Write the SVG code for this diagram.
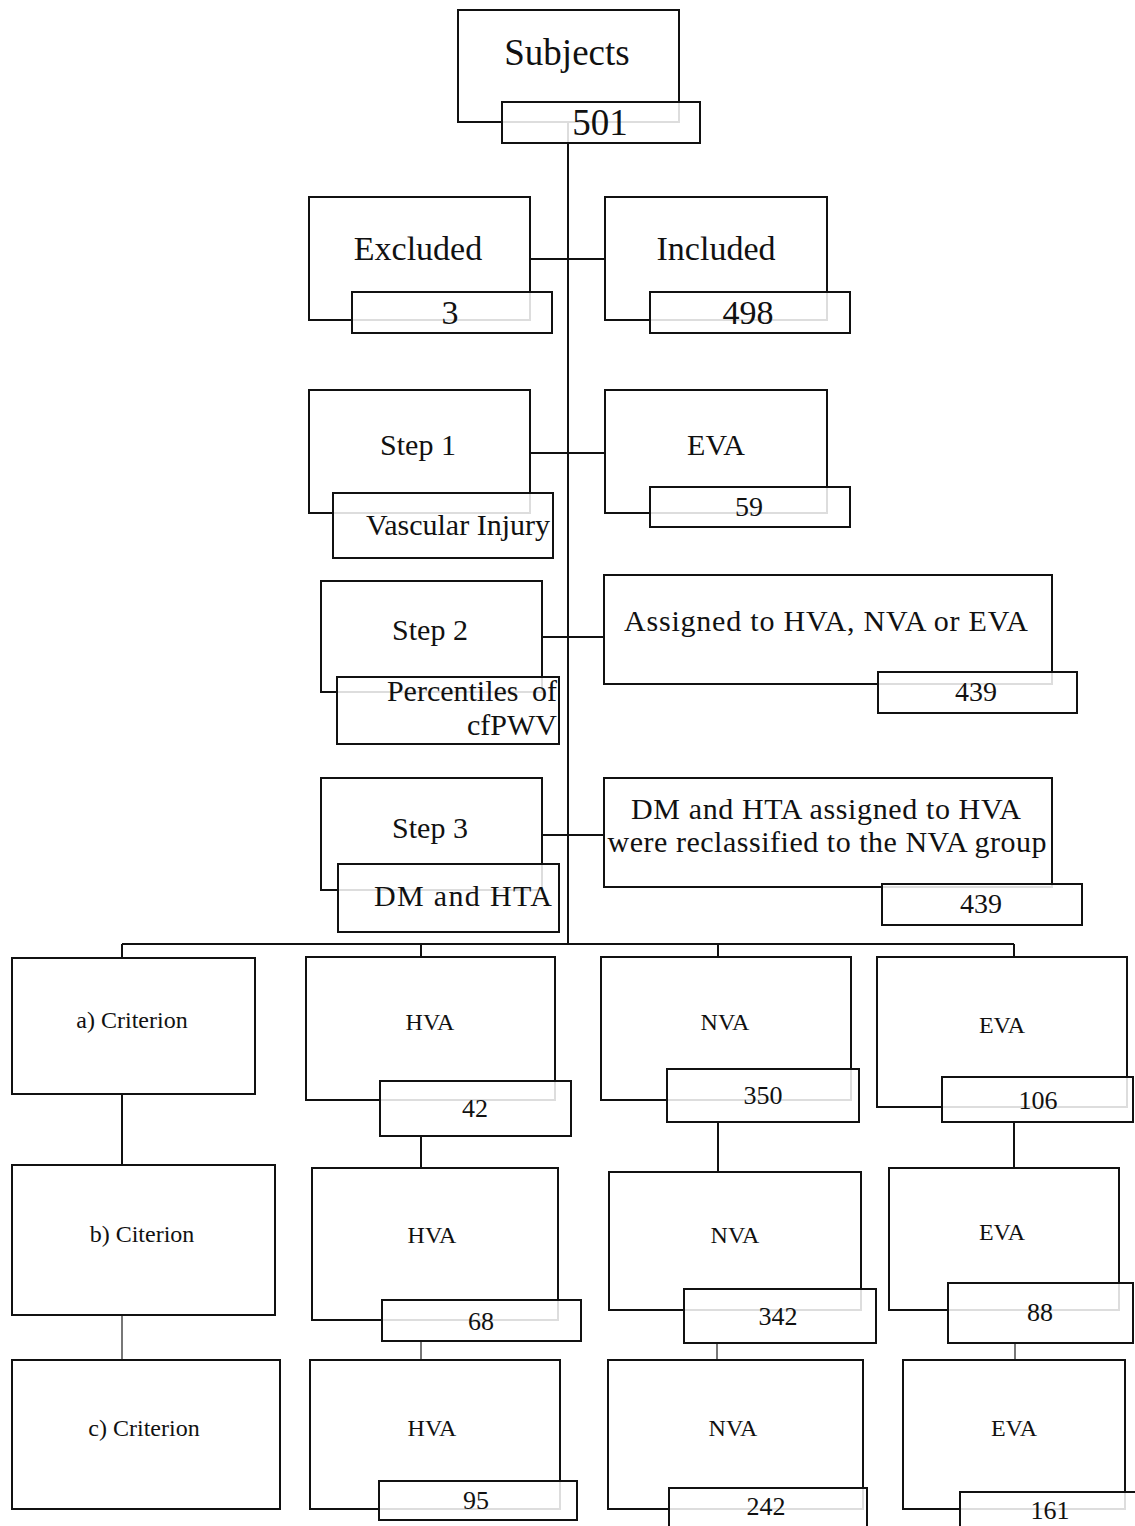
<svg xmlns="http://www.w3.org/2000/svg" width="1135" height="1526" viewBox="0 0 1135 1526">
<style>
.box{fill:#fff;stroke:#111;stroke-width:2}
.lab{fill:#fff;fill-opacity:0.86;stroke:#111;stroke-width:2}
.ln{stroke:#111;stroke-width:2;fill:none}
.lg{stroke:#777;stroke-width:2;fill:none}
text{font-family:"Liberation Serif","Times New Roman",serif;fill:#111;text-anchor:middle}
.t1{font-size:37px}
.t2{font-size:34px}
.t3{font-size:30px}
.t5{font-size:28px}
.t4{font-size:24px}
.n4{font-size:26px}
</style>
<rect width="1135" height="1526" fill="#fff"/>

<g id="connectors">
<path class="ln" d="M568 122 V944"/>
<path class="ln" d="M530 259 H605"/>
<path class="ln" d="M530 453 H605"/>
<path class="ln" d="M542 637 H604"/>
<path class="ln" d="M542 835 H604"/>
<path class="ln" d="M122 944 H1014 M122 944 V958 M421 944 V957 M718 944 V957 M1014 944 V957"/>
<path class="ln" d="M122 1094 V1165 M421 1136 V1168 M718 1122 V1172 M1014 1122 V1168"/>
<path class="lg" d="M122 1315 V1360 M421 1341 V1360 M717 1343 V1360 M1015 1343 V1360"/>
</g>

<g id="subjects">
<rect class="box" x="458" y="10" width="221" height="112"/>
<text class="t1" x="567" y="65">Subjects</text>
<rect class="lab" x="502" y="102" width="198" height="41"/>
<text class="t1" x="600" y="135">501</text>
</g>

<g id="excluded">
<rect class="box" x="309" y="197" width="221" height="123"/>
<text class="t2" x="418" y="260">Excluded</text>
<rect class="lab" x="352" y="292" width="200" height="41"/>
<text class="t2" x="450" y="324">3</text>
</g>

<g id="included">
<rect class="box" x="605" y="197" width="222" height="123"/>
<text class="t2" x="716" y="260">Included</text>
<rect class="lab" x="650" y="292" width="200" height="41"/>
<text class="t2" x="748" y="324">498</text>
</g>

<g id="step1">
<rect class="box" x="309" y="390" width="221" height="123"/>
<text class="t3" x="418" y="455">Step 1</text>
<rect class="lab" x="333" y="493" width="220" height="65"/>
<text class="t3" x="550" y="535" style="text-anchor:end">Vascular Injury</text>
</g>

<g id="eva1">
<rect class="box" x="605" y="390" width="222" height="123"/>
<text class="t3" x="716" y="455">EVA</text>
<rect class="lab" x="650" y="487" width="200" height="40"/>
<text class="t5" x="749" y="516">59</text>
</g>

<g id="step2">
<rect class="box" x="321" y="581" width="221" height="111"/>
<text class="t3" x="430" y="640">Step 2</text>
<rect class="lab" x="337" y="677" width="222" height="67"/>
<text class="t3" x="557" y="701" style="text-anchor:end" word-spacing="6">Percentiles of</text>
<text class="t3" x="557" y="735" style="text-anchor:end">cfPWV</text>
</g>

<g id="assigned">
<rect class="box" x="604" y="575" width="448" height="109"/>
<text class="t3" x="826" y="631" textLength="404" lengthAdjust="spacing">Assigned to HVA, NVA or EVA</text>
<rect class="lab" x="878" y="672" width="199" height="41"/>
<text class="t5" x="976" y="701">439</text>
</g>

<g id="step3">
<rect class="box" x="321" y="778" width="221" height="112"/>
<text class="t3" x="430" y="838">Step 3</text>
<rect class="lab" x="338" y="864" width="221" height="68"/>
<text class="t3" x="463" y="906" textLength="178" lengthAdjust="spacing">DM and  HTA</text>
</g>

<g id="reclass">
<rect class="box" x="604" y="778" width="448" height="109"/>
<text class="t3" x="826" y="819" textLength="390" lengthAdjust="spacing">DM and HTA assigned to HVA</text>
<text class="t3" x="827" y="852" textLength="439" lengthAdjust="spacing">were reclassified  to the NVA  group</text>
<rect class="lab" x="882" y="884" width="200" height="41"/>
<text class="t5" x="981" y="913">439</text>
</g>

<g id="criterion-a">
<rect class="box" x="12" y="958" width="243" height="136"/>
<text class="t4" x="132" y="1028">a) Criterion</text>
</g>
<g id="hva-a">
<rect class="box" x="306" y="957" width="249" height="143"/>
<text class="t4" x="430" y="1030">HVA</text>
<rect class="lab" x="380" y="1081" width="191" height="55"/>
<text class="n4" x="475" y="1117">42</text>
</g>
<g id="nva-a">
<rect class="box" x="601" y="957" width="250" height="143"/>
<text class="t4" x="725" y="1030">NVA</text>
<rect class="lab" x="667" y="1069" width="192" height="53"/>
<text class="n4" x="763" y="1104">350</text>
</g>
<g id="eva-a">
<rect class="box" x="877" y="957" width="250" height="150"/>
<text class="t4" x="1002" y="1033">EVA</text>
<rect class="lab" x="942" y="1077" width="191" height="45"/>
<text class="n4" x="1038" y="1109">106</text>
</g>

<g id="criterion-b">
<rect class="box" x="12" y="1165" width="263" height="150"/>
<text class="t4" x="142" y="1242">b) Citerion</text>
</g>
<g id="hva-b">
<rect class="box" x="312" y="1168" width="246" height="152"/>
<text class="t4" x="432" y="1243">HVA</text>
<rect class="lab" x="382" y="1300" width="199" height="41"/>
<text class="n4" x="481" y="1330">68</text>
</g>
<g id="nva-b">
<rect class="box" x="609" y="1172" width="252" height="138"/>
<text class="t4" x="735" y="1243">NVA</text>
<rect class="lab" x="684" y="1289" width="192" height="54"/>
<text class="n4" x="778" y="1325">342</text>
</g>
<g id="eva-b">
<rect class="box" x="889" y="1168" width="230" height="142"/>
<text class="t4" x="1002" y="1240">EVA</text>
<rect class="lab" x="948" y="1283" width="185" height="60"/>
<text class="n4" x="1040" y="1321">88</text>
</g>

<g id="criterion-c">
<rect class="box" x="12" y="1360" width="268" height="149"/>
<text class="t4" x="144" y="1436">c) Criterion</text>
</g>
<g id="hva-c">
<rect class="box" x="310" y="1360" width="250" height="149"/>
<text class="t4" x="432" y="1436">HVA</text>
<rect class="lab" x="379" y="1481" width="198" height="39"/>
<text class="n4" x="476" y="1509">95</text>
</g>
<g id="nva-c">
<rect class="box" x="608" y="1360" width="255" height="149"/>
<text class="t4" x="733" y="1436">NVA</text>
<rect class="lab" x="669" y="1488" width="198" height="40"/>
<text class="n4" x="766" y="1515">242</text>
</g>
<g id="eva-c">
<rect class="box" x="903" y="1360" width="222" height="149"/>
<text class="t4" x="1014" y="1436">EVA</text>
<rect class="lab" x="960" y="1492" width="177" height="36"/>
<text class="n4" x="1050" y="1519">161</text>
</g>
</svg>
